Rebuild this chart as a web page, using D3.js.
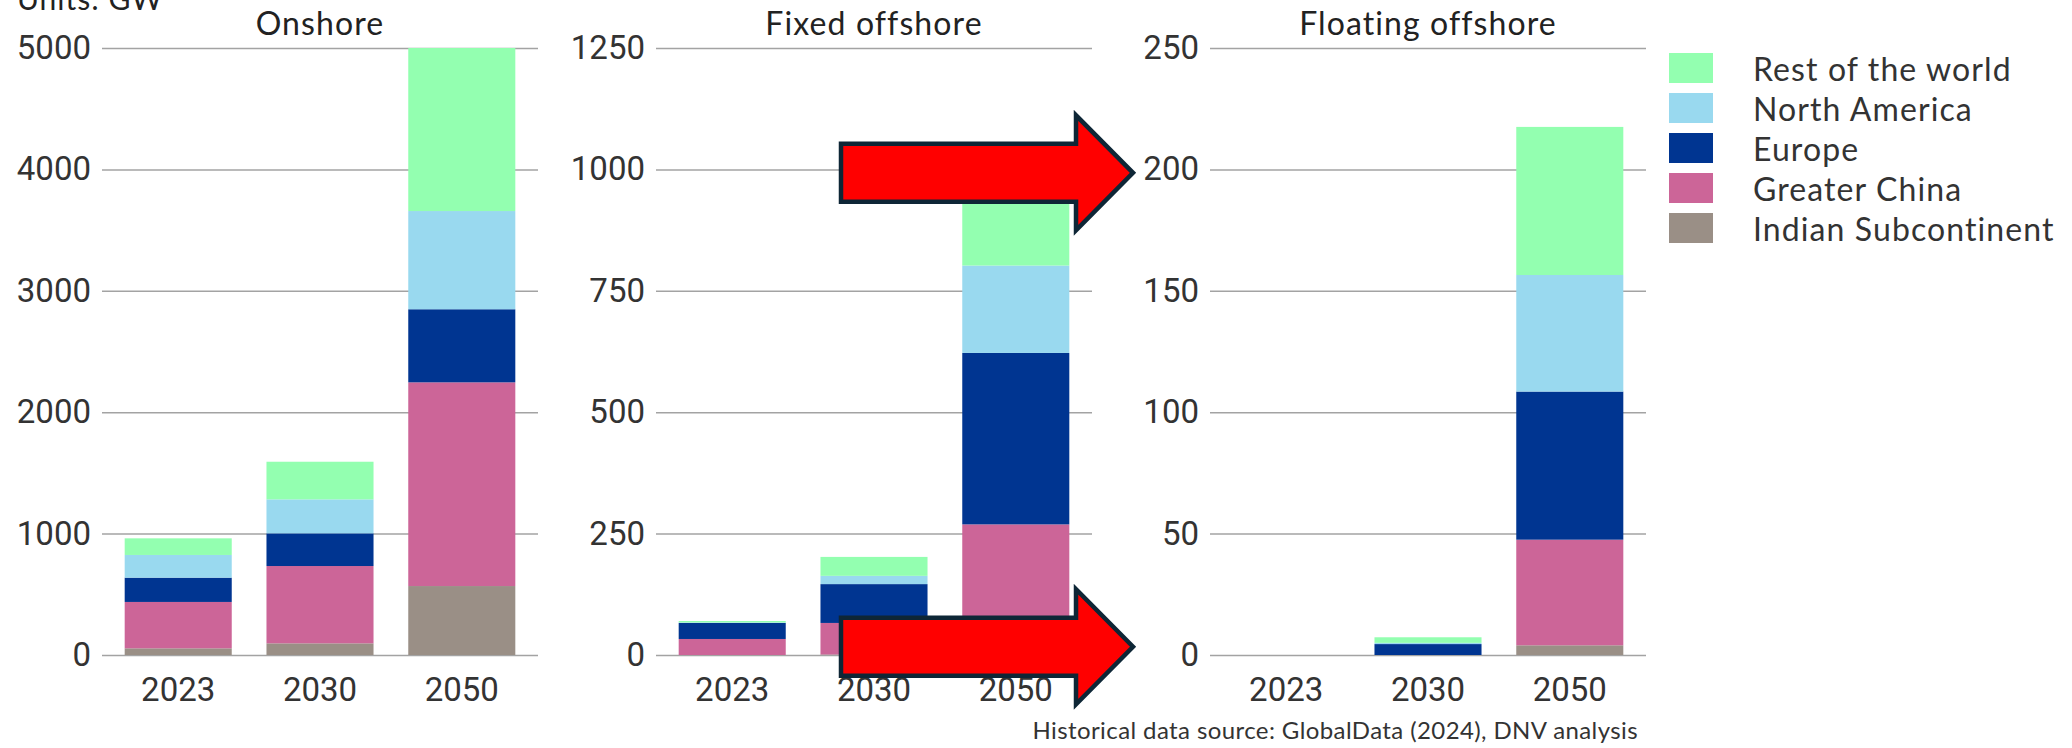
<!DOCTYPE html>
<html>
<head>
<meta charset="utf-8">
<script src="https://cdn.jsdelivr.net/npm/d3@7"></script>
<style>
  body { margin: 0; background: #fff; }
  svg { display: block; }
</style>
</head>
<body>
<script>
// categories
var years = ["2023", "2030", "2050"];
var panelNames = ["Onshore", "Fixed offshore", "Floating offshore"];
// stack order, bottom to top
var regionNames = ["Indian Subcontinent", "Greater China", "Europe", "North America", "Rest of the world"];
var regionColors = ["#9a8f86", "#cc6598", "#003591", "#99d9ef", "#93ffb0"];

// Onshore, GW
var onshoreIndian = [55, 96, 568];
var onshoreChina = [382, 637, 1678];
var onshoreEurope = [200, 269, 602];
var onshoreNorthAmerica = [187, 280, 809];
var onshoreRest = [137, 310, 1343];

// Fixed offshore, GW
var fixedIndian = [0, 1, 2];
var fixedChina = [33, 65, 267];
var fixedEurope = [33, 80, 353];
var fixedNorthAmerica = [1, 17, 180];
var fixedRest = [3, 39, 188];

// Floating offshore, GW
var floatingIndian = [0, 0, 4];
var floatingChina = [0, 0, 43.5];
var floatingEurope = [0, 4.5, 61];
var floatingNorthAmerica = [0, 0.5, 48];
var floatingRest = [0, 2.3, 61];

// tick labels
var onshoreTicks = [0, 1000, 2000, 3000, 4000, 5000];
var fixedTicks = [0, 250, 500, 750, 1000, 1250];
var floatingTicks = [0, 50, 100, 150, 200, 250];

var panelSeries = [
  [onshoreIndian, onshoreChina, onshoreEurope, onshoreNorthAmerica, onshoreRest],
  [fixedIndian, fixedChina, fixedEurope, fixedNorthAmerica, fixedRest],
  [floatingIndian, floatingChina, floatingEurope, floatingNorthAmerica, floatingRest]
];
var panelTicks = [onshoreTicks, fixedTicks, floatingTicks];

var W = 2072, H = 748;
var svg = d3.select("body").append("svg").attr("width", W).attr("height", H);

var plotTop = 48, plotBottom = 655, plotWidth = 436;
var panelLeft = d3.scaleLinear().domain([0, 1]).range([102, 656]); // 554 px between panels

var titleFont = "Lato, 'Open Sans', sans-serif";
var tickFont = "Roboto, 'Liberation Sans', Arial, sans-serif";

// unit label, cut at the top edge like the original
svg.append("text")
  .attr("x", 17).attr("y", 10)
  .attr("font-family", titleFont).attr("font-size", 30).attr("fill", "#222")
  .attr("letter-spacing", 1)
  .text("Units: GW");

var x = d3.scaleBand().domain(years).range([0, plotWidth]).paddingInner(0.245).paddingOuter(0.16);
var yScales = [];

panelNames.forEach(function(name, p) {
  var g = svg.append("g").attr("transform", "translate(" + panelLeft(p) + ",0)");
  var ticks = panelTicks[p];
  var y = d3.scaleLinear().domain([0, d3.max(ticks)]).range([plotBottom, plotTop]);
  yScales.push(y);

  // gridlines + y labels
  var yAxis = g.append("g").call(d3.axisLeft(y).tickValues(ticks).tickSize(-plotWidth).tickPadding(11).tickFormat(d3.format("d")));
  yAxis.select(".domain").remove();
  yAxis.selectAll("line").attr("stroke", "#a3a3a3").attr("stroke-width", 1.5);
  yAxis.selectAll("text").attr("font-family", tickFont).attr("font-size", 33).attr("fill", "#333");

  // stacked bars
  var rows = years.map(function(yr, i) {
    var r = { year: yr };
    regionNames.forEach(function(rn, k) { r[rn] = panelSeries[p][k][i]; });
    return r;
  });
  var stacked = d3.stack().keys(regionNames)(rows);

  g.selectAll("g.layer")
    .data(stacked)
    .enter().append("g")
      .attr("class", "layer")
      .attr("fill", function(d, k) { return regionColors[k]; })
    .selectAll("rect")
    .data(function(d) { return d; })
    .enter().append("rect")
      .attr("x", function(d) { return x(d.data.year); })
      .attr("width", x.bandwidth())
      .attr("y", function(d) { return y(d[1]); })
      .attr("height", function(d) { return y(d[0]) - y(d[1]); });

  // x labels
  var xAxis = g.append("g").attr("transform", "translate(0," + plotBottom + ")")
    .call(d3.axisBottom(x).tickSize(0).tickPadding(23));
  xAxis.select(".domain").remove();
  xAxis.selectAll("text").attr("font-family", tickFont).attr("font-size", 33).attr("fill", "#333");

  // panel title
  g.append("text")
    .attr("x", plotWidth / 2).attr("y", 35)
    .attr("text-anchor", "middle")
    .attr("font-family", titleFont).attr("font-size", 32).attr("fill", "#222")
    .attr("letter-spacing", 1.1)
    .text(name);
});

// legend, top entry = top of stack
var legendOrder = regionNames.slice().reverse();
var legend = svg.append("g").attr("transform", "translate(1669,53)");
legend.selectAll("rect")
  .data(legendOrder)
  .enter().append("rect")
    .attr("x", 0)
    .attr("y", function(d, i) { return i * 40; })
    .attr("width", 44).attr("height", 30)
    .attr("fill", function(d) { return regionColors[regionNames.indexOf(d)]; });
legend.selectAll("text")
  .data(legendOrder)
  .enter().append("text")
    .attr("x", 84)
    .attr("y", function(d, i) { return i * 40 + 15; })
    .attr("dominant-baseline", "central")
    .attr("font-family", titleFont).attr("font-size", 32).attr("fill", "#333")
    .attr("letter-spacing", 1.1)
    .text(function(d) { return d; });

// source note
svg.append("text")
  .attr("x", 1638).attr("y", 739)
  .attr("text-anchor", "end")
  .attr("font-family", titleFont).attr("font-size", 24).attr("fill", "#333")
  .attr("letter-spacing", 0.4)
  .text("Historical data source: GlobalData (2024), DNV analysis");

// red arrows from the fixed offshore panel to the floating offshore axis
var arrowLevels = [993, 17]; // in fixed offshore GW units
var tailX = panelLeft(1) + 185, tipX = panelLeft(2) - 77;
var headLen = 57, bodyHalf = 29, headHalf = 57.5;
svg.selectAll("path.arrow")
  .data(arrowLevels)
  .enter().append("path")
    .attr("class", "arrow")
    .attr("d", function(v) {
      var cy = yScales[1](v), hb = tipX - headLen;
      return "M" + tailX + "," + (cy - bodyHalf) +
        "L" + hb + "," + (cy - bodyHalf) +
        "L" + hb + "," + (cy - headHalf) +
        "L" + tipX + "," + cy +
        "L" + hb + "," + (cy + headHalf) +
        "L" + hb + "," + (cy + bodyHalf) +
        "L" + tailX + "," + (cy + bodyHalf) + "Z";
    })
    .attr("fill", "#ff0000")
    .attr("stroke", "#0e2636")
    .attr("stroke-width", 4.5)
    .attr("stroke-linejoin", "miter");
</script>
</body>
</html>
